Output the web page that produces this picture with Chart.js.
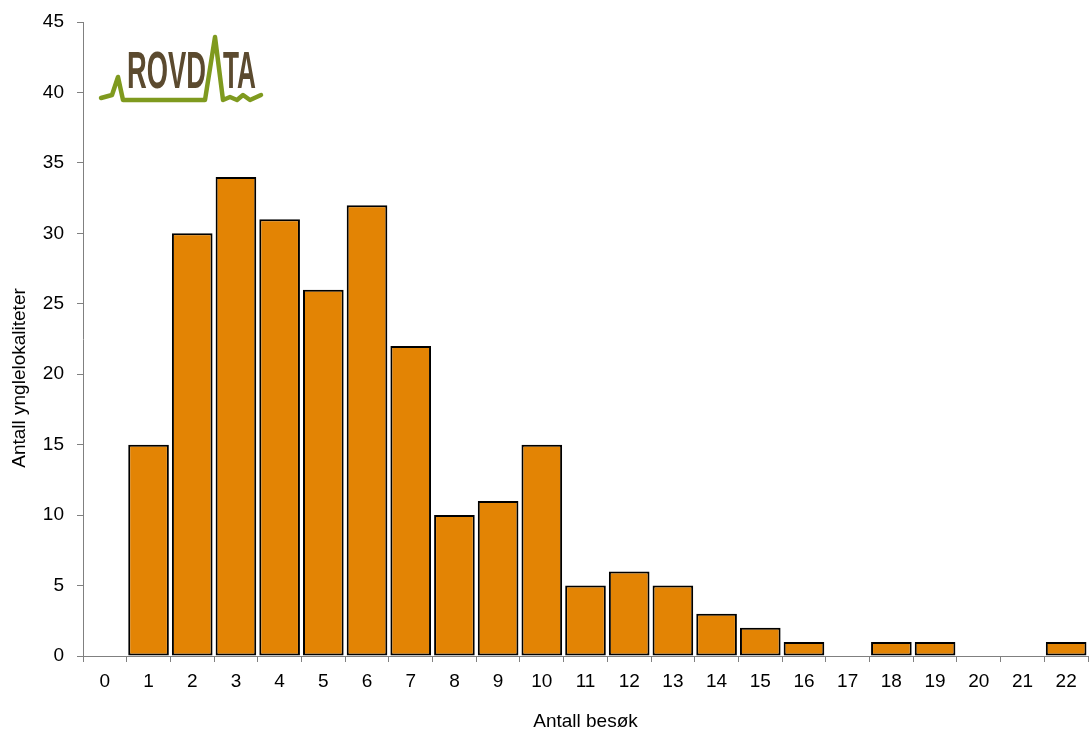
<!DOCTYPE html>
<html>
<head>
<meta charset="utf-8">
<script src="https://cdn.jsdelivr.net/npm/chart.js@4"></script>
<style>
html,body{margin:0;padding:0;background:#fff;}
#wrap{width:1089px;height:731px;position:relative;}
</style>
</head>
<body>
<div id="wrap"><canvas id="c" width="1089" height="731"></canvas></div>
<script>
const categories = ["0","1","2","3","4","5","6","7","8","9","10","11","12","13","14","15","16","17","18","19","20","21","22"];
const values = [0,15,30,34,31,26,32,22,10,11,15,5,6,5,3,2,1,0,1,1,0,0,1];
const yTicks = [0,5,10,15,20,25,30,35,40,45];
const xTitle = "Antall besøk";
const yTitle = "Antall ynglelokaliteter";
const logoParts = ["ROVD","TA"];

const FONT = "'Liberation Sans', Arial, sans-serif";

const extrasPlugin = {
  id: 'extras',
  afterDraw(chart) {
    const ctx = chart.ctx;
    ctx.save();
    // y axis title
    ctx.fillStyle = '#000';
    ctx.font = "19px " + FONT;
    ctx.textAlign = 'center';
    ctx.textBaseline = 'middle';
    ctx.translate(20, 378);
    ctx.rotate(-Math.PI / 2);
    ctx.fillText(yTitle, 0, 0);
    ctx.restore();

    ctx.save();
    // logo green line
    ctx.strokeStyle = '#7f9a1f';
    ctx.lineWidth = 4.5;
    ctx.lineJoin = 'round';
    ctx.lineCap = 'round';
    ctx.beginPath();
    const pts = [[101,98],[112,95],[118,77],[123,100],[205,100],[215,37],[223,100],[230,97],[237,100],[243,95],[250,100],[261,95]];
    pts.forEach((p,i)=> i? ctx.lineTo(p[0],p[1]) : ctx.moveTo(p[0],p[1]));
    ctx.stroke();
    // logo text
    ctx.fillStyle = '#5b4a2f';
    ctx.font = "bold 51px " + FONT;
    ctx.textBaseline = 'alphabetic';
    ctx.textAlign = 'left';
    function drawScaled(txt, x, w, baseY) {
      const m = ctx.measureText(txt).width;
      ctx.save();
      ctx.translate(x, baseY);
      ctx.scale(w / m, 1);
      ctx.fillText(txt, 0, 0);
      ctx.restore();
    }
    drawScaled(logoParts[0], 127, 79, 88);
    drawScaled(logoParts[1], 223, 33, 88);
    ctx.restore();
  }
};

new Chart(document.getElementById('c'), {
  type: 'bar',
  data: {
    labels: categories,
    datasets: [{
      data: values,
      backgroundColor: '#e38404',
      borderColor: '#000000',
      borderWidth: 2,
      borderSkipped: false,
      barPercentage: 0.93,
      categoryPercentage: 1.0
    }]
  },
  options: {
    responsive: false,
    animation: false,
    devicePixelRatio: 1,
    layout: { padding: { top: 18, right: 1, left: 0, bottom: 0 } },
    plugins: { legend: { display: false }, tooltip: { enabled: false } },
    scales: {
      x: {
        grid: { display: true, drawOnChartArea: false, offset: true, tickLength: 6, color: '#808080' },
        border: { display: true, color: '#808080', width: 1 },
        ticks: { color: '#000', font: { family: FONT, size: 19 }, padding: 8, maxRotation: 0, autoSkip: false },
        title: { display: true, text: xTitle, color: '#000', font: { family: FONT, size: 19, lineHeight: 1 }, padding: { top: 0, bottom: 0 } },
        afterFit(s) { s.height = 75; }
      },
      y: {
        min: 0, max: 45,
        afterBuildTicks(s) { s.ticks = yTicks.map(v => ({ value: v })); },
        grid: { display: true, drawOnChartArea: false, tickLength: 6, color: '#808080' },
        border: { display: true, color: '#808080', width: 1 },
        ticks: { color: '#000', font: { family: FONT, size: 19, lineHeight: 0.95 }, padding: 13 },
        title: { display: false },
        afterFit(s) { s.width = 83; }
      }
    }
  },
  plugins: [extrasPlugin]
});
</script>
</body>
</html>
